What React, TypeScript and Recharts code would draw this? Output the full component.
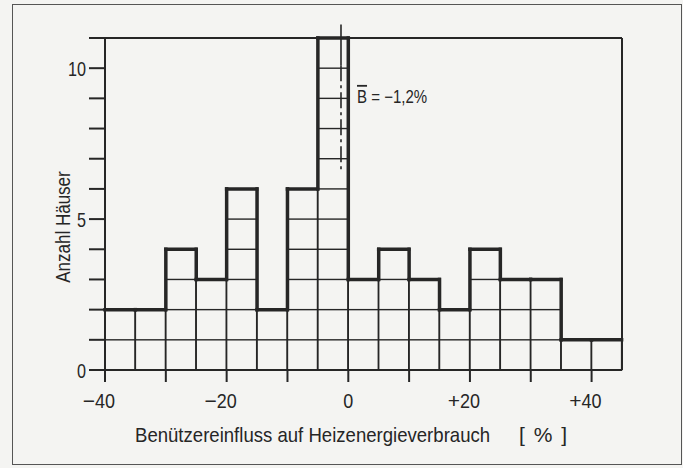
import {
  ComposedChart,
  Bar,
  XAxis,
  YAxis,
  ReferenceLine,
  ReferenceDot,
  Label,
} from "recharts";

// bins of 5 % width, labelled by their lower edge
const binStarts = [-40, -35, -30, -25, -20, -15, -10, -5, 0, 5, 10, 15, 20, 25, 30, 35, 40];
const counts = [2, 2, 4, 3, 6, 2, 6, 11, 3, 4, 3, 2, 4, 3, 3, 1, 1];
const xTicks = [-40, -30, -20, -10, 0, 10, 20, 30, 40];
const xTickLabels: Record<number, string> = { [-40]: "−40", [-20]: "−20", 0: "0", 20: "+20", 40: "+40" };
const yTicks = [0, 1, 2, 3, 4, 5, 6, 7, 8, 9, 10, 11];
const yTickLabels = [0, 5, 10];
const meanValue = -1.2;

const INK = "#262626";
const FONT = "'Liberation Sans', Arial, sans-serif";
// the drawing uses a narrow stencil lettering; squeeze the glyphs to that width
const DIGIT_W = 10;
const SQUEEZE = 0.86;

const chartData = binStarts.map((b, i) => ({ bin: b, count: counts[i] }));

// each bar is drawn as a stack of unit cells, with the thick histogram outline on top
const HistCell = (props: any) => {
  const { x, y, width, height, index } = props;
  const v = counts[index];
  if (!v) return null;
  const unit = height / v;
  const base = y + height;
  const prev = index > 0 ? counts[index - 1] : 0;
  const rows = [];
  for (let k = 1; k < v; k++) {
    rows.push(
      <line key={k} x1={x} x2={x + width} y1={base - k * unit} y2={base - k * unit} stroke={INK} strokeWidth={1.4} />
    );
  }
  return (
    <g>
      <rect x={x} y={y} width={width} height={height} fill="none" stroke={INK} strokeWidth={1.4} />
      {rows}
      <line x1={x} x2={x + width} y1={y} y2={y} stroke={INK} strokeWidth={3.5} strokeLinecap="square" />
      {index > 0 && (
        <line x1={x} x2={x} y1={base - prev * unit} y2={y} stroke={INK} strokeWidth={3.5} strokeLinecap="square" />
      )}
    </g>
  );
};

// digits centred under the tick, sign hanging to the left (like the drawing)
const XTick = (props: any) => {
  const { x, y, payload } = props;
  const label = xTickLabels[payload.value];
  if (!label) return null;
  const hasSign = label[0] === "−" || label[0] === "+";
  const digits = hasSign ? label.slice(1) : label;
  return (
    <g fill={INK} fontSize={21} fontFamily={FONT}>
      <text x={x} y={y} dy="0.74em" textAnchor="middle" textLength={digits.length * DIGIT_W} lengthAdjust="spacingAndGlyphs">
        {digits}
      </text>
      {hasSign && (
        <text x={x - 10} y={y} dy="0.74em" textAnchor="end">{label[0]}</text>
      )}
    </g>
  );
};

const YTick = (props: any) => {
  const { x, y, payload } = props;
  if (!yTickLabels.includes(payload.value)) return null;
  const s = String(payload.value);
  return (
    <text
      x={x}
      y={y}
      dy="0.36em"
      textAnchor="end"
      fill={INK}
      fontSize={21}
      fontFamily={FONT}
      textLength={s.length * 9}
      lengthAdjust="spacingAndGlyphs"
    >
      {s}
    </text>
  );
};

export default function App() {
  return (
    <div style={{ position: "fixed", left: 0, top: 0, width: 683, height: 468, background: "#f4f4f2" }}>
      <div
        style={{
          position: "absolute",
          left: 12,
          top: 4,
          width: 668,
          height: 459,
          border: "1.5px solid #555",
        }}
      />
      <div style={{ position: "absolute", left: 0, top: 0 }}>
        <ComposedChart
          width={683}
          height={468}
          data={chartData}
          barCategoryGap={0}
          barGap={0}
          margin={{ top: 38, right: 61, bottom: 18, left: 0 }}
        >
          <XAxis xAxisId="cat" dataKey="bin" hide height={0} />
          <XAxis
            xAxisId="num"
            dataKey="bin"
            type="number"
            domain={[-40, 45]}
            ticks={xTicks}
            interval={0}
            allowDataOverflow
            height={80}
            tickSize={12}
            tickMargin={10}
            tick={<XTick />}
            axisLine={{ stroke: INK, strokeWidth: 2 }}
            tickLine={{ stroke: INK, strokeWidth: 2 }}
          >
            <Label
              content={() => (
                <g fill={INK} fontSize={21} fontFamily={FONT}>
                  <g transform={`translate(135 442) scale(${0.885} 1)`}>
                    <text x={0} y={0}>Benützereinfluss auf Heizenergieverbrauch</text>
                  </g>
                  <text x={519} y={442} letterSpacing={1.5}>[ % ]</text>
                </g>
              )}
            />
          </XAxis>
          <YAxis
            domain={[0, 11]}
            ticks={yTicks}
            width={105}
            tickSize={16}
            tickMargin={3}
            interval={0}
            tick={<YTick />}
            axisLine={{ stroke: INK, strokeWidth: 2 }}
            tickLine={{ stroke: INK, strokeWidth: 2 }}
          >
            <Label
              content={() => (
                <g transform={`translate(70 227) rotate(-90) scale(${0.81} 1)`}>
                  <text x={0} y={0} textAnchor="middle" fill={INK} fontSize={21} fontFamily={FONT}>
                    Anzahl Häuser
                  </text>
                </g>
              )}
            />
          </YAxis>
          <Bar xAxisId="cat" dataKey="count" shape={HistCell} isAnimationActive={false} />
          <ReferenceLine y={11} xAxisId="num" stroke={INK} strokeWidth={2} />
          <ReferenceLine x={45} xAxisId="num" stroke={INK} strokeWidth={2} />
          <ReferenceLine
            xAxisId="num"
            ifOverflow="visible"
            segment={[{ x: meanValue, y: 11.45 }, { x: meanValue, y: 10.1 }]}
            stroke={INK}
            strokeWidth={1.6}
          />
          <ReferenceLine
            xAxisId="num"
            ifOverflow="visible"
            segment={[{ x: meanValue, y: 10.1 }, { x: meanValue, y: 6.55 }]}
            stroke={INK}
            strokeWidth={1.6}
            strokeDasharray="16 4 3 4"
          />
          <ReferenceDot
            xAxisId="num"
            x={meanValue}
            y={9.05}
            r={0}
            ifOverflow="visible"
            label={(p: any) => (
              <g transform={`translate(${p.viewBox.x + 16} ${p.viewBox.y}) scale(${SQUEEZE - 0.025} 1)`}>
                <text x={0} y={0} dominantBaseline="central" fill={INK} fontSize={18} fontFamily={FONT}>
                  <tspan textDecoration="overline">B</tspan>
                  <tspan> = −1,2%</tspan>
                </text>
              </g>
            )}
          />
        </ComposedChart>
      </div>
    </div>
  );
}
